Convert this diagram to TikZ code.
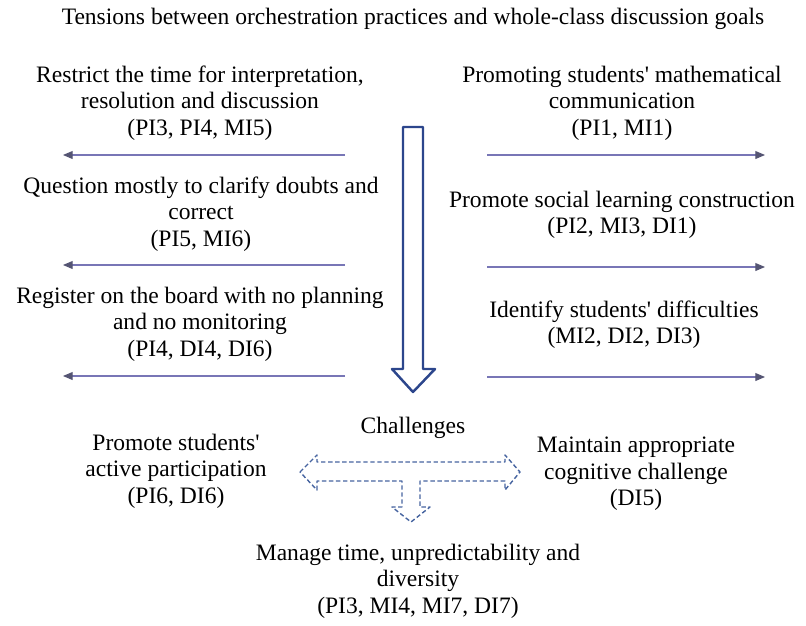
\documentclass[tikz,border=0pt]{standalone}
\usepackage{fontspec}
\setmainfont{Liberation Serif}
\usepackage{xcolor}
\usetikzlibrary{arrows.meta}
\usetikzlibrary{positioning}

\definecolor{arrowblue}{RGB}{44,70,140}
\definecolor{dashblue}{RGB}{70,100,160}
\definecolor{lineviolet}{RGB}{120,118,182}
\definecolor{tipgray}{RGB}{85,85,115}

\tikzset{
  txt/.style={align=center, inner sep=0pt, font=\fontsize{13.4}{15}\selectfont},
  tensarrow/.style={lineviolet, line width=0.6pt,
    -{Triangle[length=5.5pt,width=4.5pt,color=tipgray]}},
}

\begin{document}
\begin{tikzpicture}[x=0.02cm, y=-0.02cm]
\useasboundingbox (0,0) rectangle (806,626);

% title
\node[txt] (title) at (413,19) {Tensions between orchestration practices and whole-class discussion goals};

% left column
\node[txt] (rtime) at (200,103) {Restrict the time for interpretation,\\ resolution and discussion\\ (PI3, PI4, MI5)};
\node[txt] (quest) at (201,214) {Question mostly to clarify doubts and\\ correct\\ (PI5, MI6)};
\node[txt] (board) at (200,324) {Register on the board with no planning\\ and no monitoring\\ (PI4, DI4, DI6)};

% right column
\node[txt] (commu) at (622,103) {Promoting students\textquotesingle\ mathematical\\ communication\\ (PI1, MI1)};
\node[txt] (social) at (622,215) {Promote social learning construction\\ (PI2, MI3, DI1)};
\node[txt] (diffic) at (624,325) {Identify students\textquotesingle\ difficulties\\ (MI2, DI2, DI3)};

% tension arrows
\coordinate (la1) at (345,155); \coordinate (lb1) at (63,155);
\coordinate (la2) at (345,265); \coordinate (lb2) at (63,265);
\coordinate (la3) at (345,376); \coordinate (lb3) at (63,376);
\coordinate (ra1) at (487,155); \coordinate (rb1) at (765,155);
\coordinate (ra2) at (487,267); \coordinate (rb2) at (765,267);
\coordinate (ra3) at (487,377); \coordinate (rb3) at (765,377);
\foreach \i in {1,2,3}{
  \draw[tensarrow] (la\i) -- (lb\i);
  \draw[tensarrow] (ra\i) -- (rb\i);
}

% big down arrow
\draw[arrowblue, line width=1.4pt, line join=round, fill=white]
  (403,127) -- (423,127) -- (423,369) -- (435,369) -- (413,392)
  -- (392,369) -- (403,369) -- cycle;

% challenges
\node[txt] (chall) at (413,428) {Challenges};
\node[txt] (partic) at (176,471) {Promote students\textquotesingle\\ active participation\\ (PI6, DI6)};
\node[txt] (cogn) at (636,474) {Maintain appropriate\\ cognitive challenge\\ (DI5)};
\node[txt] (manage) at (418,581) {Manage time, unpredictability and\\ diversity\\ (PI3, MI4, MI7, DI7)};

% dashed T arrow
\draw[dashblue, line width=0.8pt, dash pattern=on 2.5pt off 1.5pt, line join=round]
  (300,472) -- (317,455) -- (317,462) -- (505,462) -- (505,455) -- (520,472)
  -- (505,490) -- (505,481) -- (420,481) -- (420,507) -- (430,507)
  -- (411,522) -- (392,507) -- (402,507) -- (402,481) -- (317,481)
  -- (317,490) -- cycle;

\end{tikzpicture}
\end{document}
